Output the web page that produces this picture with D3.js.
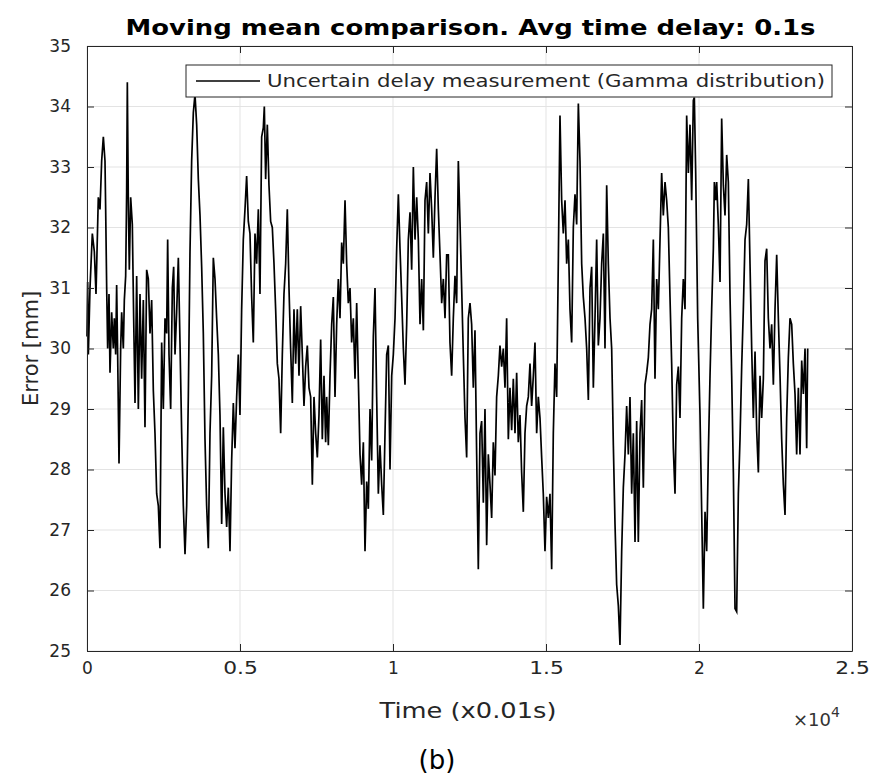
<!DOCTYPE html>
<html lang="en">
<head>
<meta charset="utf-8">
<title>Moving mean comparison</title>
<script src="https://cdn.jsdelivr.net/npm/d3@7"></script>
<style>
  body { margin: 0; background: #fff; }
  text { font-family: "DejaVu Sans", sans-serif; fill: #262626; }
  .title { font-size: 22px; font-weight: bold; fill: #000; }
  .tick text { font-size: 17px; fill: #262626; }
  .tick line { stroke: #262626; }
  .domain { stroke: #262626; }
  .grid line { stroke: #e3e3e3; stroke-width: 1; }
  .axisLabel { font-size: 21px; }
  .legend text { font-size: 18px; }
</style>
</head>
<body>
<div id="chart"></div>
<script>
// samples of the moving-mean error, time in samples of 0.01 s
const sampleTime = [
  0,22,44,98,174,240,294,370,425,479,534,588,610,643,675,719,752,806,860,893,937,969,1002,1046,1100,1133,1187,1220,1264,1296,1318,1351,1383,1427,1481,1525,1569,1623,1678,1732,1786,1841,1895,1950,2004,2059,2113,2168,2222,2277,2331,2385,2440,2494,2549,2603,2636,2680,2734,2789,2832,2876,2930,2985,3039,3094,3148,3203,3257,3311,3366,3420,3475,3529,3584,3638,3693,3747,3801,3856,3910,
  3965,4019,4074,4128,4183,4237,4292,4346,4401,4455,4510,4564,4618,4673,4727,4782,4836,4891,4945,4999,5054,5108,5163,5217,5272,5326,5381,5435,5490,5544,5599,5653,5708,5762,5795,5838,5893,5947,6002,6056,6111,6165,6220,6274,6329,6383,6437,6492,6546,6601,6655,6710,6764,6819,6873,6928,6982,7037,7091,7146,7200,7255,7309,7364,7418,7473,7527,7581,7636,7690,7745,7799,
  7832,7887,7941,7996,8050,8105,8159,8214,8268,8323,8377,8432,8486,8540,8595,8649,8704,8758,8813,8867,8922,8976,9031,9085,9140,9194,9249,9303,9357,9412,9466,9521,9575,9630,9684,9739,9793,9848,9902,9957,10011,10066,10120,10175,10229,10283,10338,10392,10447,10501,10556,10610,10665,10719,10774,10828,10883,10937,10992,11046,11100,11155,11209,11264,11318,11373,11427,11482,11536,11591,11645,11700,11754,
  11808,11862,11917,11971,12026,12080,12135,12189,12244,12298,12353,12407,12461,12516,12570,12625,12679,12734,12788,12843,12897,12952,13006,13061,13115,13170,13224,13278,13333,13387,13442,13496,13551,13605,13660,13714,13769,13823,13878,13932,13987,14041,14095,14150,14204,14259,14313,14368,14422,14477,14531,14586,14640,14695,14749,14804,14858,14912,14967,15021,15076,15130,15185,15239,15294,15348,15403,15457,15512,15566,15621,15675,
  15730,15784,15839,15893,15948,16002,16057,16111,16166,16220,16275,16329,16384,16438,16492,16547,16601,16656,16710,16765,16819,16874,16928,16983,17037,17092,17146,17201,17255,17309,17364,17418,17473,17527,17582,17636,17691,17745,17800,17854,17909,17963,18017,18072,18126,18181,18235,18290,18344,18399,18453,18508,18562,18617,18671,18726,18780,18834,18889,18943,18998,19052,19107,19161,19216,19270,19325,19379,19434,19488,19543,
  19597,19652,19706,19761,19815,19848,19892,19957,20033,20088,20142,20197,20251,20305,20360,20414,20469,20502,20545,20578,20632,20687,20741,20796,20850,20905,20959,21014,21068,21123,21177,21231,21286,21340,21395,21449,21504,21558,21613,21667,21722,21776,21831,21885,21940,21994,22048,22103,22157,22212,22266,22321,22375,22430,22484,22539,22593,22648,22702,22757,22811,22865,22920,22974,23029,23083,23138,23192,23247,23301,23356,23410,23465,23519,23552
];
const errorMm = [
  30.2,31.1,29.9,31.0,31.9,31.6,30.9,32.5,32.3,33.1,33.5,33.1,32.3,31.0,30.0,30.9,29.6,30.6,30.0,30.5,29.9,31.05,29.9,28.1,30.0,30.6,30.0,30.8,31.2,32.6,34.4,32.4,31.3,32.5,32.05,30.5,29.1,31.2,29.0,30.9,29.5,30.8,28.7,31.3,31.15,30.25,30.8,29.3,28.6,27.6,27.4,26.7,30.1,29.0,30.5,30.25,31.8,29.9,29.0,31.0,31.35,29.9,30.6,31.5,30.1,28.6,27.4,26.6,27.4,29.2,31.6,33.1,33.9,34.2,33.7,32.8,32.2,31.35,30.25,28.5,27.4,
  26.7,28.6,29.55,31.5,31.15,30.5,29.9,28.9,27.1,28.7,27.6,27.05,27.7,26.65,28.15,29.1,28.35,29.2,29.9,28.9,30.65,31.8,32.3,32.85,32.1,31.9,30.85,30.1,31.9,31.4,32.3,30.9,33.5,33.65,34.0,32.8,33.7,32.7,32.1,32.0,31.4,30.65,29.75,29.5,28.6,29.9,30.9,31.4,32.3,31.0,30.0,29.1,30.65,29.75,30.65,29.55,30.7,29.9,29.05,29.7,30.05,29.35,29.2,27.75,29.2,28.6,28.2,28.9,30.15,28.5,29.55,28.45,
  29.2,28.4,29.55,30.4,30.85,29.2,30.4,31.15,30.5,31.75,31.4,32.45,31.4,30.75,31.0,30.1,30.5,29.5,30.75,29.5,28.25,27.75,28.45,26.65,27.8,27.35,29.0,28.15,30.2,31.0,29.2,27.6,28.4,27.75,27.25,28.6,29.9,30.05,28.0,29.55,29.9,30.5,31.65,32.55,31.65,30.85,30.0,29.4,30.4,31.8,32.25,31.3,33.0,31.8,32.5,31.8,30.4,31.15,30.3,32.45,32.75,31.9,32.9,32.3,31.5,32.5,33.3,32.3,31.55,30.75,31.15,30.5,31.55,
  31.55,30.1,29.55,30.5,31.2,30.75,33.1,32.1,31.0,29.9,28.85,28.2,30.5,30.75,30.4,29.35,30.3,28.25,26.35,28.6,28.8,27.45,29.0,26.75,28.25,27.75,27.2,28.45,27.9,29.2,29.55,30.05,29.7,30.0,29.35,30.5,28.5,29.35,28.65,29.5,28.6,29.6,28.45,28.9,27.95,27.3,28.6,29.05,29.2,29.75,29.05,29.55,30.1,28.6,29.2,28.85,28.2,27.6,26.65,27.55,27.2,27.6,26.35,28.6,29.75,29.2,31.45,33.85,32.45,31.9,32.45,31.4,
  31.8,30.65,30.1,32.0,32.55,32.05,34.05,33.1,31.4,30.85,30.5,30.0,29.15,31.0,31.35,29.35,30.5,31.8,30.05,30.5,31.4,31.9,30.0,32.7,31.4,30.5,30.0,28.4,27.1,26.1,25.75,25.1,26.65,27.7,28.25,29.05,28.25,29.2,27.6,28.6,26.8,28.8,26.8,28.6,29.15,27.7,29.4,29.6,29.85,30.4,30.65,31.8,29.5,31.15,30.65,31.8,32.9,32.2,32.75,32.45,32.0,30.85,29.75,28.35,27.6,29.4,29.7,28.85,30.5,31.15,30.65,
  33.85,32.9,33.7,32.45,34.1,34.15,32.9,30.5,28.9,27.3,25.7,27.3,26.65,28.25,29.55,30.65,31.65,32.75,32.45,32.75,32.05,31.1,33.8,32.7,32.2,33.2,32.75,30.85,29.55,27.95,25.7,25.65,27.6,28.5,29.7,30.65,31.8,32.05,32.8,31.4,30.0,28.85,29.95,28.65,27.95,29.55,28.85,29.5,31.45,31.65,30.5,30.0,30.4,29.4,30.65,31.55,30.5,29.55,28.5,27.75,27.25,28.85,29.85,30.5,30.4,29.75,29.25,28.25,29.35,28.25,29.8,29.25,30.0,28.35,30.0
];

const xTicks = [0, 5000, 10000, 15000, 20000, 25000];
const xTickLabels = ["0", "0.5", "1", "1.5", "2", "2.5"];
const yTicks = [25, 26, 27, 28, 29, 30, 31, 32, 33, 34, 35];

const titleText = "Moving mean comparison. Avg time delay: 0.1s";
const seriesName = "Uncertain delay measurement (Gamma distribution)";

makeChart();

// the source figure is stretched sideways, so horizontal text is widened a bit
function stretch(sel, k) {
  sel.each(function () {
    const w = this.getComputedTextLength();
    d3.select(this).attr("textLength", w * k).attr("lengthAdjust", "spacingAndGlyphs");
  });
}

function makeChart() {
  const W = 874, H = 776;
  const margin = { top: 46, right: 22, bottom: 125, left: 87 };
  const width = W - margin.left - margin.right;
  const height = H - margin.top - margin.bottom;

  const svg = d3.select("#chart").append("svg")
    .attr("width", W)
    .attr("height", H);

  const g = svg.append("g")
    .attr("transform", `translate(${margin.left},${margin.top})`);

  const x = d3.scaleLinear().domain([0, 25000]).range([0, width]);
  const y = d3.scaleLinear().domain([25, 35]).range([height, 0]);

  // grid
  g.append("g").attr("class", "grid")
    .selectAll("line").data(xTicks).join("line")
    .attr("x1", d => x(d)).attr("x2", d => x(d))
    .attr("y1", 0).attr("y2", height);
  g.append("g").attr("class", "grid")
    .selectAll("line").data(yTicks).join("line")
    .attr("x1", 0).attr("x2", width)
    .attr("y1", d => y(d)).attr("y2", d => y(d));

  // line
  const pts = d3.zip(sampleTime, errorMm);
  const line = d3.line().x(d => x(d[0])).y(d => y(d[1]));
  g.append("path")
    .datum(pts)
    .attr("fill", "none")
    .attr("stroke", "#000")
    .attr("stroke-width", 1.7)
    .attr("stroke-linejoin", "miter")
    .attr("d", line);

  // axes (matlab style, ticks inward, box on)
  const tickLen = 7;
  const xAxis = d3.axisBottom(x).tickValues(xTicks)
    .tickFormat((d, i) => xTickLabels[i])
    .tickSizeInner(-tickLen).tickSizeOuter(0).tickPadding(11);
  const yAxis = d3.axisLeft(y).tickValues(yTicks)
    .tickFormat(d3.format("d"))
    .tickSizeInner(-tickLen).tickSizeOuter(0).tickPadding(16);

  const gx = g.append("g").attr("transform", `translate(0,${height})`).call(xAxis);
  gx.selectAll(".tick text").filter((d, i) => xTickLabels[i].includes("."))
    .call(stretch, 1.28);
  g.append("g").call(yAxis);
  g.append("g").call(d3.axisTop(x).tickValues(xTicks).tickFormat("")
    .tickSizeInner(-tickLen).tickSizeOuter(0));
  g.append("g").attr("transform", `translate(${width},0)`)
    .call(d3.axisRight(y).tickValues(yTicks).tickFormat("")
    .tickSizeInner(-tickLen).tickSizeOuter(0));

  // legend
  const leg = g.append("g").attr("class", "legend")
    .attr("transform", `translate(${186 - margin.left},${65 - margin.top})`);
  leg.append("rect")
    .attr("width", 646).attr("height", 32)
    .attr("fill", "#fff").attr("stroke", "#262626").attr("stroke-width", 1);
  leg.append("line")
    .attr("x1", 10).attr("x2", 74).attr("y1", 16).attr("y2", 16)
    .attr("stroke", "#000").attr("stroke-width", 1.3);
  leg.append("text")
    .attr("x", 81).attr("y", 16).attr("dy", "0.35em")
    .attr("textLength", 558).attr("lengthAdjust", "spacingAndGlyphs")
    .text(seriesName);

  // title and labels
  svg.append("text").attr("class", "title")
    .attr("x", margin.left + width / 2 + 1).attr("y", 35)
    .attr("text-anchor", "middle")
    .attr("textLength", 690).attr("lengthAdjust", "spacingAndGlyphs")
    .text(titleText);

  svg.append("text").attr("class", "axisLabel")
    .attr("transform", `translate(31,${margin.top + height / 2}) rotate(-90)`)
    .attr("text-anchor", "middle")
    .attr("dy", "0.35em")
    .text("Error [mm]");

  svg.append("text").attr("class", "axisLabel")
    .attr("x", 468).attr("y", 718)
    .attr("text-anchor", "middle")
    .attr("textLength", 177).attr("lengthAdjust", "spacingAndGlyphs")
    .text("Time (x0.01s)");

  const expo = svg.append("text")
    .attr("x", 793).attr("y", 726)
    .style("font-size", "18px")
    .style("fill", "#333");
  expo.append("tspan").text("\u00d710");
  expo.append("tspan").attr("dy", -9).style("font-size", "14px").text("4");

  svg.append("text")
    .attr("x", 437).attr("y", 769)
    .attr("text-anchor", "middle")
    .style("font-size", "26px")
    .style("fill", "#000")
    .text("(b)");
}
</script>
</body>
</html>
